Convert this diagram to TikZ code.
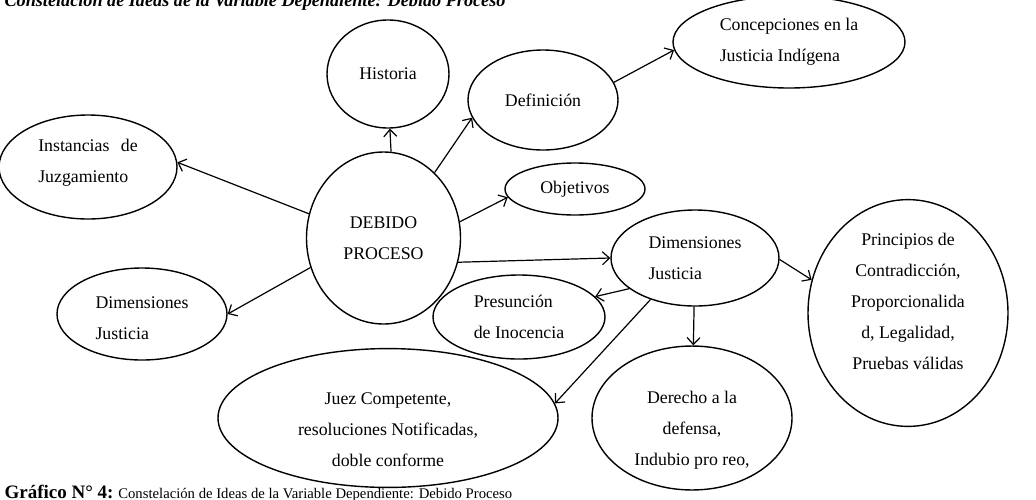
\documentclass[tikz,border=0pt]{standalone}
\usepackage{fontspec}
\setmainfont{Liberation Serif}
\usetikzlibrary{arrows.meta,shapes.geometric}

\begin{document}
\begin{tikzpicture}[
  x=1pt, y=-1pt,
  every node/.style={font=\fontsize{17.8pt}{31pt}\selectfont},
  idea/.style={draw, ellipse, line width=1.4pt, inner sep=0pt, align=center},
  link/.style={-{Straight Barb[length=7pt,width=13pt]}, line width=1.2pt}
]
\useasboundingbox (0,0) rectangle (1036,499);

\node[anchor=base west, font=\bfseries\itshape\fontsize{18.2pt}{20pt}\selectfont]
  (title) at (1,6) {Constelación de Ideas de la Variable Dependiente: Debido Proceso};

\node[idea, minimum width=154pt, minimum height=172pt] (debido) at (383.5,238) {DEBIDO\\PROCESO};
\node[idea, minimum width=122pt, minimum height=108pt] (hist)   at (388,74)   {Historia};
\node[idea, minimum width=150pt, minimum height=100pt] (def)    at (543,100)  {Definición};
\node[idea, minimum width=232pt, minimum height=92pt, align=left] (conc) at (789,42)
  {Concepciones en la\\Justicia Indígena};
\node[idea, minimum width=178pt, minimum height=104pt, align=left] (inst) at (88,167)
  {Instancias\hspace{7pt} de\\Juzgamiento\rule[-12pt]{0pt}{0pt}};
\node[idea, minimum width=140pt, minimum height=52pt]  (obj)    at (575,189)  {Objetivos};
\node[idea, minimum width=168pt, minimum height=96pt, align=left] (dimr) at (695,258)
  {Dimensiones\\Justicia};
\node[idea, minimum width=200pt, minimum height=214pt] (princ)  at (908,313)
  {Principios de\\Contradicción,\\Proporcionalida\\d, Legalidad,\\Pruebas válidas\rule[-24pt]{0pt}{0pt}};
\node[idea, minimum width=172pt, minimum height=84pt, align=left] (pres) at (519,317)
  {Presunción\\de Inocencia};
\node[idea, minimum width=170pt, minimum height=92pt, align=left] (diml) at (142,314)
  {\rule{0pt}{20pt}Dimensiones\\Justicia};
\node[idea, minimum width=340pt, minimum height=120pt] (juez)   at (388,418)
  {\rule{0pt}{36pt}Juez Competente,\\resoluciones Notificadas,\\doble conforme};
\node[idea, minimum width=200pt, minimum height=116pt] (der)    at (692,418)
  {\rule{0pt}{36pt}Derecho a la\\defensa,\\Indubio pro reo,};

\draw[link] (debido.85)  -- (hist.272);
\draw[link] (debido.52)  -- (def.194);
\draw[link] (def.14)     -- (conc.184);
\draw[link] (debido.12)  -- (obj.187);
\draw[link] (debido.-18) -- (dimr.180);
\draw[link] (debido.162) -- (inst.3);
\draw[link] (debido.202) -- (diml.0);
\draw[link] (dimr.-1)    -- (princ.161);
\draw[link] (dimr.205)   -- (pres.15);
\draw[link] (dimr.223)   -- (juez.5);
\draw[link] (dimr)       -- (der);

\node[anchor=base west, font=\fontsize{14.7pt}{16pt}\selectfont] (caption) at (1,498)
  {{\bfseries\fontsize{19pt}{20pt}\selectfont Gráfico N° 4:} Constelación de Ideas de la Variable Dependiente: Debido Proceso};
\end{tikzpicture}
\end{document}
